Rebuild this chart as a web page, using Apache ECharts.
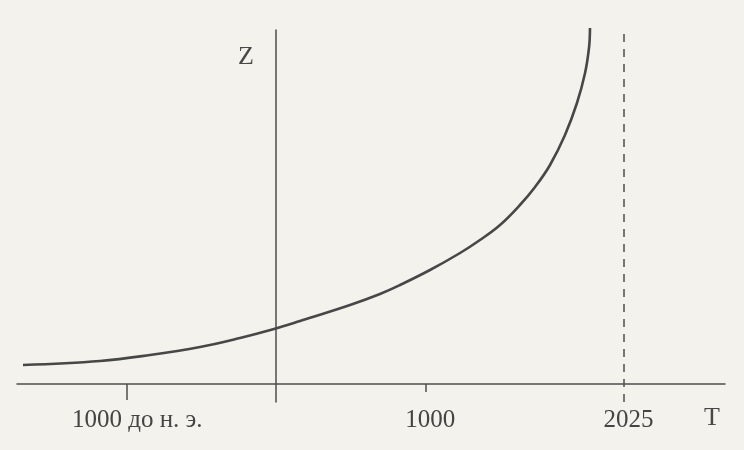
<!DOCTYPE html>
<html>
<head>
<meta charset="utf-8">
<script src="https://cdn.jsdelivr.net/npm/echarts@6/dist/echarts.min.js"></script>
<style>html,body{margin:0;padding:0;background:#f3f2ec;}#c{width:744px;height:450px;}</style>
</head>
<body>
<div id="c"></div>
<script>
// Schematic time axis (the book's drawing is not to scale)
const tickPos = [-1000, 1000, 2325];
const tickText = ['1000 до н. э.', '1000', '2025'];
const asymptotePos = 2325;
// Curve: schematic time position and Z value
const curveT = [-1690, -1175, -841, -507, -240, -13, 161, 495, 695, 829, 1029, 1230, 1363, 1497, 1630, 1731, 1831, 1931, 2011, 2065, 2092, 2098];
const curveZ = [19, 23, 29, 37, 46, 55, 63, 79, 90, 99, 114, 131, 144, 159, 179, 197, 219, 249, 281, 311, 337, 356];
const axisNameY = 'Z';
const axisNameX = 'T';

const chart = echarts.init(document.getElementById('c'));
const ink = '#4d4d4d';
const font = 'Liberation Serif';
const labelShift = [22, 9, 9];

chart.setOption({
  backgroundColor: '#f3f2ec',
  animation: false,
  title: [
    { text: axisNameY, left: 233, top: 39, textStyle: { fontFamily: font, fontSize: 26, fontWeight: 'normal', color: '#484848' } },
    { text: axisNameX, left: 699, top: 400, textStyle: { fontFamily: font, fontSize: 26, fontWeight: 'normal', color: '#484848' } }
  ],
  grid: { left: 17, right: 19, top: 30, bottom: 48 },
  xAxis: [
    {
      type: 'value', min: -1730, max: 3000,
      axisLine: { onZero: true, lineStyle: { color: ink, width: 1.5 } },
      axisTick: { show: true, customValues: [tickPos[0]], length: 16, lineStyle: { color: ink, width: 1.5 } },
      axisLabel: {
        show: true, customValues: tickPos, margin: 6,
        formatter: function (v) {
          const i = tickPos.indexOf(v);
          return '{l' + i + '|' + tickText[i] + '}';
        },
        rich: {
          l0: { fontFamily: font, fontSize: 25, color: '#444', padding: [0, 0, 0, labelShift[0]] },
          l1: { fontFamily: font, fontSize: 25, color: '#444', padding: [0, 0, 0, labelShift[1]] },
          l2: { fontFamily: font, fontSize: 25, color: '#444', padding: [0, 0, 0, labelShift[2]] }
        }
      },
      splitLine: { show: false }
    },
    {
      type: 'value', min: -1730, max: 3000, position: 'bottom', offset: -18,
      axisLine: { onZero: false, show: false },
      axisTick: { show: true, customValues: [tickPos[1]], length: 8, lineStyle: { color: ink, width: 1.5 } },
      axisLabel: { show: false },
      splitLine: { show: false }
    }
  ],
  yAxis: {
    type: 'value', min: -18, max: 354,
    axisLine: { show: true, onZero: true, lineStyle: { color: ink, width: 1.5 } },
    axisTick: { show: false },
    axisLabel: { show: false },
    splitLine: { show: false }
  },
  series: [{
    type: 'line',
    data: curveT.map((t, i) => [t, curveZ[i]]),
    smooth: 0.4,
    symbol: 'none',
    clip: false,
    lineStyle: { color: '#474747', width: 2.6 },
    markLine: {
      silent: true,
      symbol: 'none',
      label: { show: false },
      lineStyle: { color: ink, width: 1.5, type: [8, 7] },
      data: [{ xAxis: asymptotePos }]
    }
  }]
});
</script>
</body>
</html>
